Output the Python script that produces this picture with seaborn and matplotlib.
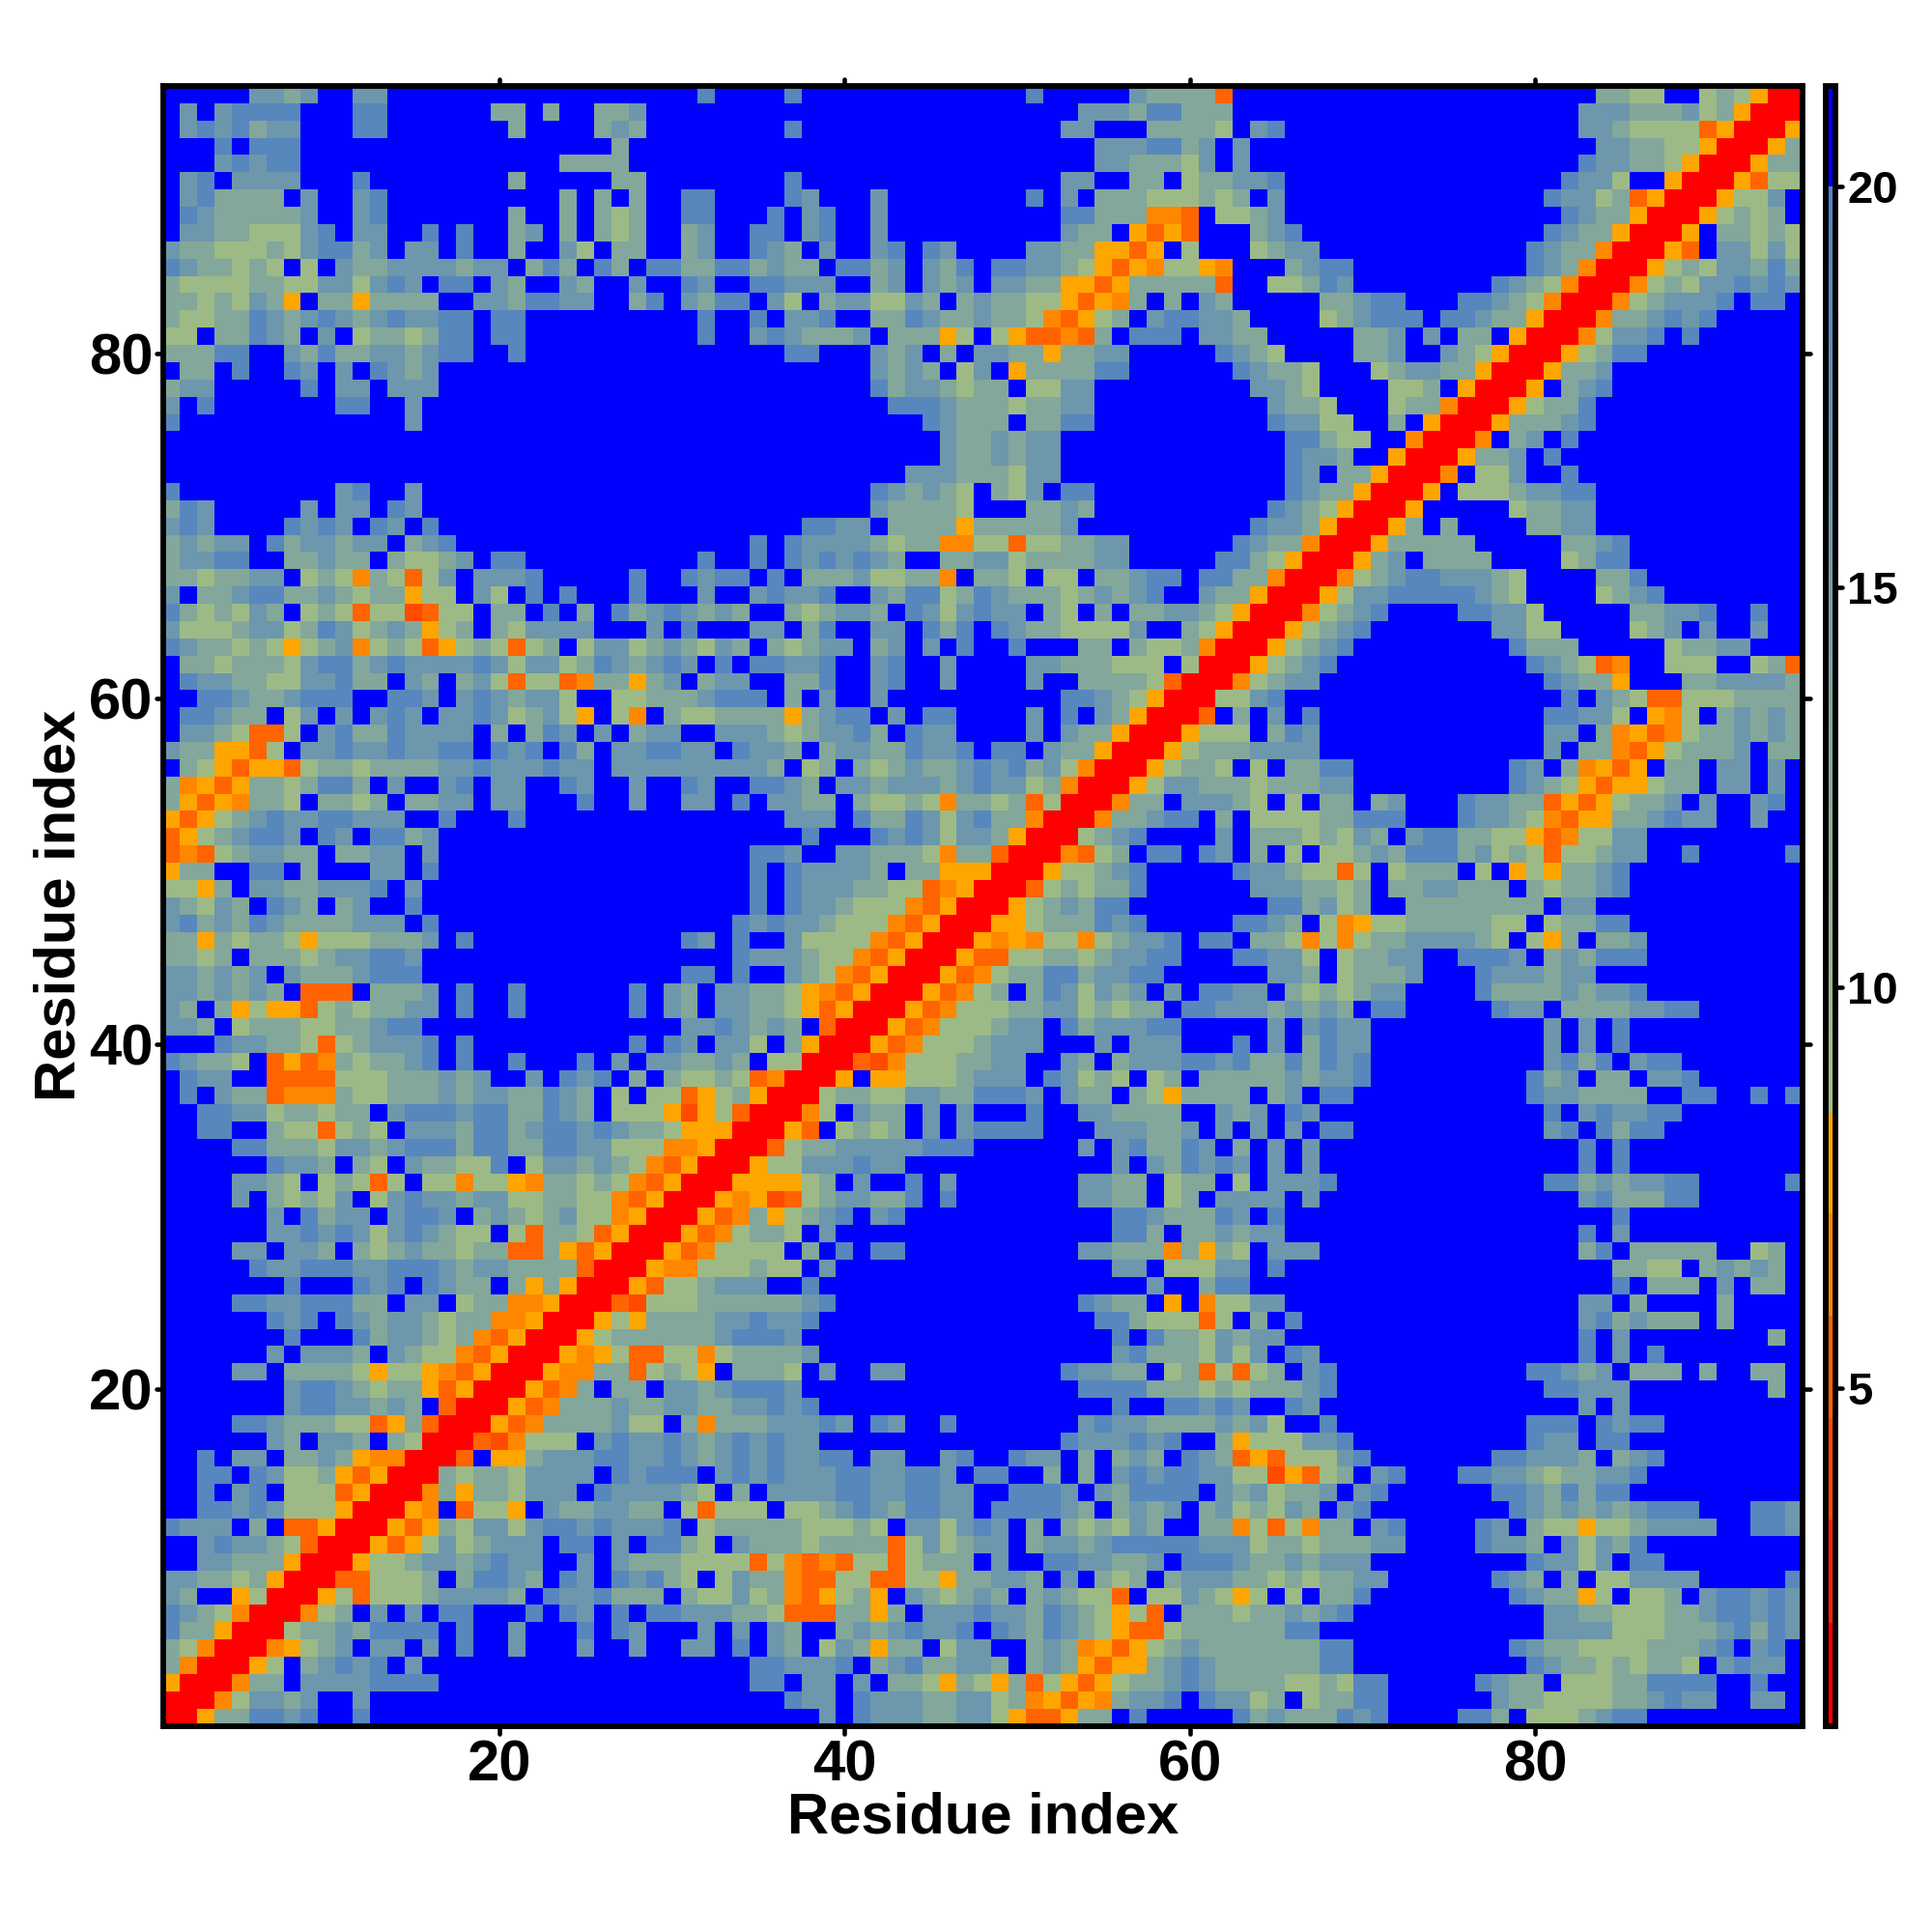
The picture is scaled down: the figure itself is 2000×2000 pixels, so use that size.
"""Residue distance map with a stepped colour bar."""

import matplotlib.pyplot as plt
import pandas as pd
import seaborn as sns
from matplotlib.colors import LinearSegmentedColormap
from matplotlib.markers import MarkerStyle, TICKDOWN, TICKLEFT, TICKRIGHT, TICKUP

_ = "."

# Letter codes stand for the distance levels in LEVELS below.
top_left = [
    ".....2232..22" + _ * 18 + "1.",
    ".2.21111...11......33.3..332.....",
    ".2121322...11.......3....323.....",
    "...1.111" + _ * 18 + "3" + _ * 6,
    "...21211" + _ * 15 + "3333" + _ * 6,
    ".21.2222...1........3.....33.....",
    ".213333.2..21..........3.3.3..11.",
    ".12333332..21.......3..3.343..11.",
    ".223344421.22..1.1..32.3.343..32.",
    "2334443421132.22.1..3..24.33..32.",
    "1233434.4.2332222322.313.13.11331",
    "344443344224212.11.23..23..2..12.",
    "3343423a.33a3333..2231122..31.231",
    "344331232123212211.11..........1.",
    "44.33123.2.4334311.11..........1.",
    "33311..23133223211..1" + _ * 12,
    ".33.1..12.2.1232" + _ * 17,
    "322.....1.22.222" + _ * 17,
    "2.1.......11..2" + _ * 18,
    "1" + _ * 13 + "2" + _ * 18,
    _ * 33,
    _ * 33,
    _ * 33,
    "1.........21..2" + _ * 18,
    "312.....2.22.12" + _ * 18,
    "212....1212.12.1" + _ * 17,
    "32322.1322322.321" + _ * 16,
    "32211..33233.34432.11..........1.",
    "3343322.434b34c42.2221.....1..121",
    "2.332113323433a44.24.1.1...1...2.",
    "1343423.434c44dc44.33.1.3.1321232",
    "244432243124323a43.342222...2.1..",
    "1233434a432b434ca434c43.422432342",
]

top_mid = [
    "...1" + _ * 13 + "1" + _ * 5 + "23333c...",
    _ * 20 + "222311333...",
    "...1" + _ * 15 + "22...33334.21",
    _ * 21 + "2221132.2..",
    _ * 21 + "2233342.2..",
    "...1" + _ * 15 + "22..33.433221",
    "...12...2" + _ * 8 + "1.2.333444343.2",
    "..1.21..2" + _ * 10 + "11333bbc.4432",
    ".11.21..2" + _ * 10 + "233.acac...32",
    ".123.2..21.12....2233aaca.4...43",
    "13233.1132.231.112234acab44ab...",
    ".11222..32.232.2233aaca33333c..4",
    "1.24.3224423.323344acab3.3.23...",
    ".1.221..3312332334bca43.211223..",
    ".2123332.333a4.4accbc3.111.2233.",
    "...11...232.3.2233a3322.....1234",
    "........2323.42.a333311......123",
    "........13223433.4422.........22",
    ".........111233343322..........2",
    _ * 10 + ".12333.3311..........1",
    _ * 10 + "..2332322." + _ * 12,
    _ * 10 + "..2332322." + _ * 12,
    _ * 10 + "222333422." + _ * 12,
    "........123234.342.11" + _ * 11,
    "........233334...3323..........1",
    "....1122.3333a333332..........12",
    ".1.122223433bb44c443322......123",
    ".1.1212123..33224333322.....1134",
    "1.1.33324433b.334.44.33211.1133b",
    ".21221..23114312333432321..233aR",
    "3..343223.1242122.34.3.332234aRR",
    ".22.31..22.131.123344442..34aRRR",
    "3.34322.32.2.1..1...33.3443bRRRa",
]

top_right = [
    _ * 18 + "3344..434aRR",
    _ * 17 + "222333243aRRR",
    _ * 17 + "2234444caRRRa",
    _ * 18 + "223344aRRRa3",
    _ * 17 + "122334aRRRa33",
    _ * 16 + "1224..aRRRac44",
    _ * 15 + "12243caRRRa442.",
    _ * 16 + "1233aRRRa4343.",
    "1" + _ * 14 + "1233aRRRa.33434",
    "22" + _ * 12 + "1233bRRRac.22424",
    "3211" + _ * 10 + "123bRRRa43422313",
    "4312" + _ * 8 + "1234bRRRb434221212",
    "..33211...11234bRRRb432221.11.",
    "..432111.11233aRRRb332121.....",
    "....332.2.33.aRRRb4221.1......",
    "....332..234aRRRa4311.........",
    "34...432233aRRRa332...........",
    "34....443.aRRRa.321" + _ * 11,
    "334...433bRRRa4331" + _ * 12,
    "2244..3.aRRRa33321" + _ * 12,
    "11344..bRRRb.32.1" + _ * 13,
    "1223..aRRRa332.1" + _ * 14,
    "12.33aRRRb.442..1" + _ * 13,
    "1233aRRRa.44432211" + _ * 12,
    "234aRRRa.....43322" + _ * 12,
    "23aRRRa3.3....3322" + _ * 12,
    "3bRRRa33333.....3321" + _ * 10,
    "aRRRa32.3333....4311" + _ * 10,
    "RRRb4321122234....331" + _ * 9,
    "RRa42211111234....4321" + _ * 8,
    "Rb4321....11224.....33221..1..",
    "a4321" + _ * 7 + "2244....432.2..2..",
    "4321" + _ * 9 + "1333.....43322...",
]

mid_left = [
    ".334333421132122221242243123212.1",
    ".122334422133.23.324c44cb33a32.32",
    "..112332111..112.2123224..4433321",
    ".11233.42.2.212.22124324a.4b.3443",
    ".2234cc4.213312222.3.312.2.322..2",
    "233aac4.2212212211.121.13.221122.",
    ".34acaac43343333221222122.2222222",
    "3baca3343113.2..21.22..12..2..12.",
    "3acab334.3343.3322.22...1..2..22.",
    "aca43212211222..1...1" + _ * 12,
    "ca432112.12.1132...." + _ * 13,
    "cbc432233.3322.2...." + _ * 13,
    "a33..11.3...22.1...." + _ * 13,
    "44a3.22332221.2....." + _ * 13,
    "23423.123.32..1....." + _ * 13,
    "21323123333222.1...." + _ * 13,
    "33a34334a4443332.1.." + _ * 10 + "12.",
    "3343.3334322112....." + _ * 13,
    "223232.23332111....." + _ * 10 + "11.",
    "2232323.ccc.3332.1..1......1.23.2",
    "23.3a4aac4343322.1..1......1.23.2",
    "223.43334433211....." + _ * 10 + "221",
    "...122334c432221.1.." + ".......1.12.2",
    "12334.cacb343321.1..1...1.2.22332",
    ".122..cccc444333232..2.121.3.3443",
    ".1.233cbbb344333232233123.4.44ca4",
    "..1122433433.211121133123.444ada4",
    "..11..344c434.2223113211212334aaa",
    "....1133342232111311331122444bbaR",
    "......1223.34.233441.4223234bcaRR",
    "....2234.434c4.44b44ab33434bcaRRR",
    "....2.34342.42122322443344bcaRRRa",
]

mid_mid = [
    ".11221..21..2....22333444.4RRRa4",
    "2..331..21..2....2..33334cRRRb43",
    "11.3.2..2..........11234aRRR4421",
    "333a3211.2.11....2.1.23aRRRc.3.2",
    "223432213.122....2.233aRRRa444.3",
    "1223.322331221.11.233aRRRa433322",
    "223.43.3432332121324bRRRa4334.4.",
    ".1123.2232223212243bRRRa42233343",
    "1.2233.34434b3343c4RRRb33.22234.",
    "...222.1331242133bRRRb33211.3.44",
    "....1...12124223aRRR4321....2.33",
    ".112..223334b33cRRRbc43.11.12.3.",
    ".1.122223.33aaaRRRa44321.....122",
    ".1.12223344cbaRRRc434331......22",
    ".1.1223444bcaRRRa432311........1",
    "121223444bcaRRRaa4333121.....112",
    "1..24444bcaRRRabab44b43221.11.33",
    "1222344bcaRRRacc4433432211...112",
    "1..234bcaRRRacb4331132211......2",
    "2334abcaRRRacb43.3124232.2.1122.",
    "2334acaRRRacb444332243433.112223",
    "2323.cRRRacb444322.1322211.....2",
    "24.3aRRRacb4443222...2.222...1.2",
    "3.44RRRcdb4443322..23.3222112133",
    "4cbRRRa.aa4443222.12434.43.33333",
    "3aRRR4334422331112.233.34a3333.3",
    "cRRRb4.233.2.2...1..223333..232.",
    "RRRac.4343.2.21111...222332.2.2.",
    "RRc43322222111......2.213312.3.2",
    "Ra44222122" + _ * 10 + "..2.231212.2",
    "aaaa43.2..1.2.......2233.433.4.2",
    "badc4322331.1.......2233.43.2222",
]

mid_right = [
    "321" + _ * 11 + "1234cb..444..43c",
    "22" + _ * 13 + "1233a...3322223",
    _ * 16 + "1.234cc4443333",
    ".1" + _ * 13 + "11224.ab4.32323",
    "12" + _ * 13 + "22.3bacb4332323",
    "22" + _ * 13 + "2.33bca43332.33",
    "3311" + _ * 9 + "12.3baca.33.22.2.",
    "3322" + _ * 9 + "1234acaa433.22.2.",
    "4.33.32...12233caca4332.2..21.",
    "4433111...12234bcaa332122..2..",
    "343423.2113344acb4422" + _ * 9,
    "4.4432311132434c44322..1.....1",
    "344c4.4333.4.a4a3321" + _ * 10,
    "23343.3322333.343321" + _ * 10,
    "13243..33333333.22.." + _ * 10,
    "3.4ba443333344.43311" + _ * 10,
    "4b4b433222234.4a3.332" + _ * 9,
    "24.43322..1112.323111" + _ * 9,
    "23.43332...1222322.." + _ * 10,
    "3434322....1333323221" + _ * 9,
    "2323.11.....122.33332211......",
    ".2122" + _ * 10 + "2.2.1" + _ * 10,
    ".3122" + _ * 10 + "2.2.1" + _ * 10,
    "13121" + _ * 10 + "2131.211" + _ * 7,
    "23221" + _ * 9 + "132.33.221......",
    "2.11" + _ * 10 + "1223333..11..1.1",
    "12" + _ * 13 + "1.212211" + _ * 7,
    "2.11" + _ * 11 + "21.1311" + _ * 8,
    ".2" + _ * 15 + "1.1" + _ * 10,
    ".2" + _ * 15 + "1.1" + _ * 10,
    "221" + _ * 12 + "113232211.....1",
    ".2" + _ * 15 + "2133311" + _ * 6,
]

bottom_left = [
    "......2.1322.2112.32343244baRRRac",
    "......2212124212344.4c334caRRRacb",
    "....22.223.343233433cc3acaRRRacb4",
    ".....1221112211123223333cRRRabb44",
    ".......1...121.1233.3a3aRRRac4432",
    "....112211133.22.433bbaRRRcd44433",
    "......121.123223433bbaRRRa4a33332",
    ".......1...1322343bcaRRRa43333332",
    "......2.2223.2344bcaRRRaba4cc44b4",
    "....22.33334a44abcaRRRabb33c434a.",
    ".......21123433acaRRRacb3.33.2232",
    ".......21122323.cRRRacb3332332233",
    "....11233344ca3cRRRacb3333244.3b3",
    "......23.223.34RRRcdb444.21221232",
    "..1.22.3323abbRRRc.aa322211221232",
    "..11.12443acaRRR343342222.12111.2",
    "..1.21.444caRRRb3a334222.1222234.",
    "..11212444aRRRab.c44a.2332233.4c4",
    "1222.3.ccaRRRaca34224211212221.43",
    "..212234cRRRaca4243222.11.2.1134.",
    "..22333aRRRa44322321" + "22..2.2333444",
    "223343aRRRcc4443.31123.12.12134.4",
    "23..a4RRRa4c444322223.1221333.344",
    "1234bRRRb43.2.2.11...1.12.1.11222",
    "133aRRR433231111.1..2...1.12...2.",
    "34bRRRba432.22.2.1..2...2..2..22.",
    "3bRRRa4.32121.2....." + _ * 13,
    "aRRRb33.22221111...." + _ * 13,
    "RRRb42232..2........" + _ * 13,
    "RRa331121..1........" + _ * 13,
]

bottom_mid = [
    "b3a4321.21" + _ * 10 + "..11233312.1",
    "4334.2...." + _ * 10 + "..113.332322",
    "444.3.1.11" + _ * 10 + "22333b3a34.2",
    "4344.2...." + _ * 10 + "..22.44422.1",
    "22..1....." + _ * 10 + "....2..311..",
    "333321...." + _ * 10 + "1233.a.b4422",
    "21221....." + _ * 10 + ".113444c4.3.",
    "1112......" + _ * 10 + "..1.13342322",
    "33332....." + _ * 10 + "..213334242.",
    "3334.2..22.........12233.43c4c43",
    "1112......" + _ * 10 + "111133343433",
    "22121....." + _ * 10 + "..1..11212..",
    "3322212.12..1.......212233332324",
    "12122..............1222121..3a44",
    "1212211.22..21..122.3.323.123cac",
    "1212221122112.11..3.3.212112244d",
    "3.222211221122..1112.231111.2324",
    "44.44321231122.111123.3232.32434",
    "333344434.224212.3.343423..33b4c",
    "233343333c424322.322321111122243",
    "4c4bcbc44c4333.2..1122332.111233",
    "233bcc44cc44a33223.2.343.3222334",
    "243bca43a.234323.32344c.44234a4.",
    "334ccc33a3.22212231234a4c.333433",
    "2.23..32321221.1231234acc4333333",
    "1.23.423a33.422..323baca43233333",
    ".112221.32133223.323acaa32123333",
    ".11.22.2.334a34a3c4aca4332123333",
    "...122.1222332243bacab3221.12243",
    ".....2.122233224acca33.1.....132",
]

bottom_right = [
    _ * 19 + "1" + _ * 10,
    _ * 17 + "1.2" + _ * 10,
    "22" + _ * 15 + "31.33333..43.",
    _ * 19 + "3344.32323.",
    _ * 19 + "1.333.2.33.",
    _ * 17 + "22.3....3....",
    "1" + _ * 16 + "2132333.3....",
    _ * 17 + "1.2........3.",
    "12" + _ * 15 + "1.2.1........",
    ".21" + _ * 11 + "11232.333.3..33.",
    "321" + _ * 12 + "11222........3.",
    "12" + _ * 15 + "2.2" + _ * 10,
    "..1" + _ * 11 + "111.1211" + _ * 8,
    "4221" + _ * 10 + "122.11" + _ * 10,
    "44421" + _ * 7 + "112223.321" + _ * 8,
    "ac43.21...11223433221" + _ * 9,
    "332.21" + _ * 6 + "11231311" + _ * 10,
    "23.21" + _ * 8 + "12323232111...112",
    "4b33.21....12.344a4432222..112",
    "3433322....1223.24231" + _ * 9,
    "23222" + _ * 9 + "12242.11" + _ * 8,
    "343322" + _ * 6 + "123.3.442222.....1",
    "4.331" + _ * 8 + "1233a4.443.211212",
    "2321" + _ * 11 + "223344433211212",
    "11" + _ * 13 + "222244433321312",
    "3311" + _ * 9 + "1233444433321.21.",
    "3311" + _ * 10 + "1233434334.2122.",
    "443411.....1233.444331111..1..",
    ".43311......2334444332122..22.",
    "333121....113.4443211" + _ * 9,
]

# Distance standing for each code, as read on the colour bar
LEVELS = {".": 21.0, "1": 19.0, "2": 16.0, "3": 13.0, "4": 9.5,
          "a": 7.8, "b": 6.5, "c": 5.2, "d": 4.0, "R": 1.5}

residues = list(range(1, 96))
axis_ticks = [20, 40, 60, 80]
bar_ticks = [5, 10, 15, 20]

VMIN, VMAX = 0.79, 21.25


def fit(chunk, width):
    """Keep a hand-read chunk at its block width."""
    return chunk[:width].ljust(width, ".")


def distance_frame():
    rows = []
    for block in ((top_left, top_mid, top_right),
                  (mid_left, mid_mid, mid_right),
                  (bottom_left, bottom_mid, bottom_right)):
        for left, mid, right in zip(*block):
            text = fit(left, 33) + fit(mid, 32) + fit(right, 30)
            rows.append([LEVELS[ch] for ch in text])
    return pd.DataFrame(rows, index=residues[::-1], columns=residues)


def stepped_cmap():
    """Warm steps below 8.44, sage to steel blue up to 20, then pure blue."""
    stops = [
        (VMIN, (255, 0, 0)), (2.07, (255, 0, 0)),
        (2.07, (255, 35, 0)), (3.35, (255, 35, 0)),
        (3.35, (255, 75, 0)), (4.63, (255, 75, 0)),
        (4.63, (255, 100, 0)), (5.9, (255, 100, 0)),
        (5.9, (255, 135, 0)), (7.17, (255, 135, 0)),
        (7.17, (255, 165, 0)), (8.44, (255, 165, 0)),
        (8.44, (165, 192, 128)), (20.0, (80, 130, 195)),
        (20.0, (0, 0, 255)), (VMAX, (0, 0, 255)),
    ]
    nodes = [((v - VMIN) / (VMAX - VMIN), tuple(c / 255 for c in rgb)) for v, rgb in stops]
    return LinearSegmentedColormap.from_list("contact", nodes, N=1024)


def round_ticks(axis_obj, first, second):
    for tick in axis_obj.get_major_ticks():
        tick.tick1line.set_marker(MarkerStyle(first, capstyle="round"))
        tick.tick2line.set_marker(MarkerStyle(second, capstyle="round"))


def main():
    sns.set_theme(style="white")
    plt.rcParams["font.family"] = ["Liberation Sans", "DejaVu Sans"]
    plt.rcParams["font.weight"] = "bold"

    fig = plt.figure(figsize=(20, 20), dpi=100)
    ax = fig.add_axes([168.5 / 2000, 213.5 / 2000, 1697.5 / 2000, 1697.5 / 2000])
    cax = fig.add_axes([1889.7 / 2000, 213.5 / 2000, 10.8 / 2000, 1697.5 / 2000])

    sns.heatmap(distance_frame(), ax=ax, cbar_ax=cax, cmap=stepped_cmap(),
                vmin=VMIN, vmax=VMAX, xticklabels=False, yticklabels=False,
                cbar_kws={"ticks": bar_ticks})

    for spine in ax.spines.values():
        spine.set_visible(True)
        spine.set_linewidth(4.2)
        spine.set_color("black")

    ax.set_xticks([v - 0.5 for v in axis_ticks], [str(v) for v in axis_ticks])
    ax.set_yticks([95.5 - v for v in axis_ticks], [str(v) for v in axis_ticks], rotation=0)
    ax.tick_params(axis="both", which="major", direction="out", length=5.4, width=3.3, color="black",
                   top=True, right=True, bottom=True, left=True,
                   labeltop=False, labelright=False, labelsize=43, labelcolor="black")
    ax.tick_params(axis="x", pad=5.0)
    ax.tick_params(axis="y", pad=1.8)
    round_ticks(ax.xaxis, TICKDOWN, TICKUP)
    round_ticks(ax.yaxis, TICKLEFT, TICKRIGHT)

    ax.set_xlabel("Residue index", fontsize=43, fontweight="bold", color="black", va="center")
    ax.set_ylabel("Residue index", fontsize=43, fontweight="bold", color="black", va="center")
    ax.xaxis.set_label_coords(0.5, -95 / 1697.5)
    ax.yaxis.set_label_coords(-106 / 1697.5, 0.5)

    cbar = ax.collections[0].colorbar
    cbar.outline.set_visible(True)
    cbar.outline.set_linewidth(4.2)
    cbar.outline.set_edgecolor("black")
    cbar.ax.tick_params(direction="out", length=4.7, width=3.3, color="black", right=True,
                        labelsize=34, pad=3.6, labelcolor="black")
    for tick in cbar.ax.yaxis.get_major_ticks():
        tick.tick2line.set_marker(MarkerStyle(TICKRIGHT, capstyle="round"))
    cbar.ax.minorticks_off()

    fig.savefig("out.png", dpi=100, facecolor="white")


if __name__ == "__main__":
    main()
